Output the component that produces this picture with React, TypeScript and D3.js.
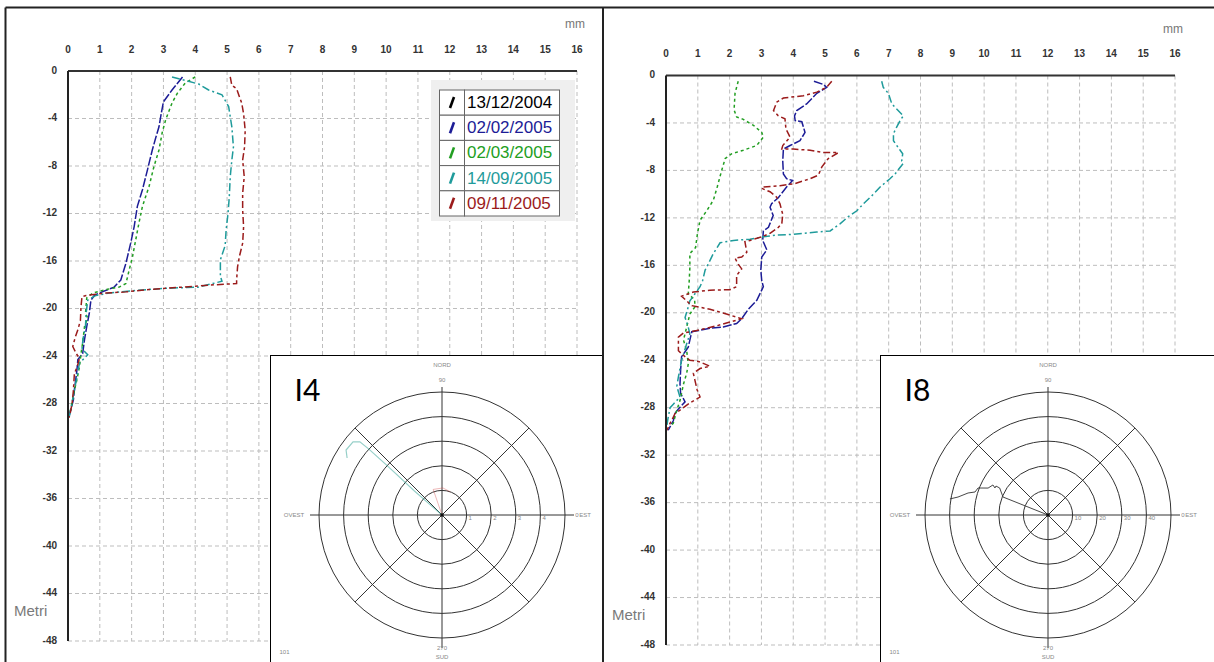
import React, { useEffect, useRef } from 'react';
import * as d3 from 'd3';

// ---- axis ticks / legend ----
const mmTicks = [0, 1, 2, 3, 4, 5, 6, 7, 8, 9, 10, 11, 12, 13, 14, 15, 16];
const depthTicks = [0, -4, -8, -12, -16, -20, -24, -28, -32, -36, -40, -44, -48];
const seriesNames = ['13/12/2004', '02/02/2005', '02/03/2005', '14/09/2005', '09/11/2005'];
const seriesColors = ['#000000', '#1c1c96', '#229e22', '#1f9b9b', '#9b1b1b'];
const seriesDash = ['none', '9,2', '3,3', '8,3,2,3', '7,3,3,3'];

// ---- I4 profiles: [mm, depth in metres] ----
const i4Ref = [[0, 0.5], [0, 29.2]];
const i4Blue = [[3.6, 0.5], [3.27, 1.6], [3.0, 2.6], [2.93, 3.6], [2.86, 4.7], [2.76, 5.6], [2.65, 6.65], [2.5, 8.3], [2.34, 10.0], [2.18, 11.4], [2.08, 13.1], [1.97, 14.5], [1.82, 16.2], [1.66, 17.6], [1.45, 18.2], [0.98, 18.7], [0.83, 18.9], [0.72, 19.3], [0.67, 20.4], [0.59, 21.5], [0.52, 22.6], [0.46, 23.8], [0.31, 24.3], [0.28, 25.2], [0.2, 26.9], [0.17, 27.7], [0.07, 28.7], [0.03, 29.1]];
const i4Green = [[4.0, 0.5], [3.69, 1.0], [3.43, 1.9], [3.27, 2.7], [3.07, 4.1], [2.96, 5.2], [2.86, 6.65], [2.7, 8.06], [2.55, 9.7], [2.34, 11.4], [2.23, 12.8], [2.13, 14.2], [2.03, 15.6], [1.92, 16.8], [1.82, 17.9], [1.61, 18.2], [1.19, 18.4], [0.78, 18.7], [0.59, 19.1], [0.55, 20.4], [0.62, 20.8], [0.52, 21.5], [0.46, 22.9], [0.41, 23.8], [0.36, 24.9], [0.28, 26], [0.2, 26.9], [0.1, 28.3], [0.05, 28.9]];
const i4Teal = [[3.27, 0.5], [3.7, 0.8], [4.11, 1.1], [4.42, 1.6], [4.84, 2.0], [5.05, 3.0], [5.15, 4.7], [5.2, 6.4], [5.15, 7.5], [5.1, 8.9], [5.07, 10.6], [5.03, 12.0], [4.97, 13.4], [4.94, 14.7], [4.79, 15.9], [4.79, 17.3], [4.84, 17.7], [4.11, 18.2], [3.07, 18.3], [2.03, 18.5], [1.3, 18.7], [0.88, 18.9], [0.62, 19.3], [0.57, 20.4], [0.55, 21.5], [0.47, 22.6], [0.44, 23.4], [0.62, 23.9], [0.36, 24.6], [0.3, 25.5], [0.2, 26.9], [0.1, 28.3], [0.04, 29.1]];
const i4Red = [[5.1, 0.5], [5.15, 1.2], [5.3, 1.5], [5.46, 2.7], [5.52, 3.6], [5.57, 5.0], [5.55, 6.4], [5.49, 7.5], [5.54, 8.9], [5.49, 10.3], [5.49, 11.7], [5.52, 13.1], [5.49, 14.5], [5.39, 15.6], [5.33, 16.5], [5.3, 17.6], [5.3, 17.9], [4.63, 18.0], [3.59, 18.2], [2.55, 18.4], [1.82, 18.6], [1.19, 18.7], [0.57, 18.9], [0.44, 19.0], [0.41, 19.8], [0.39, 21.0], [0.31, 21.8], [0.23, 22.4], [0.15, 23.2], [0.26, 23.8], [0.36, 24.2], [0.3, 24.8], [0.2, 25.5], [0.17, 26.9], [0.13, 28], [0.07, 28.8], [0.03, 29.2]];

// ---- I8 profiles ----
const i8Ref = [[0, 0.5], [0, 29.9]];
const i8Blue = [[4.65, 0.48], [4.95, 0.76], [5.05, 1.0], [4.74, 1.5], [4.42, 2.4], [4.11, 2.95], [4.04, 3.4], [4.06, 3.8], [4.27, 3.9], [4.37, 4.8], [4.21, 5.5], [3.9, 5.9], [3.69, 6.2], [3.67, 7.2], [3.69, 8.3], [3.79, 8.7], [3.98, 8.85], [3.79, 9.4], [3.53, 10.3], [3.32, 10.8], [3.27, 11.1], [3.37, 11.8], [3.22, 12.8], [3.06, 13.1], [3.04, 13.9], [3.17, 14.7], [3.01, 15.3], [2.98, 16.4], [3.01, 17.3], [3.06, 17.8], [2.85, 18.96], [2.59, 19.7], [2.38, 20.5], [2.22, 20.9], [1.8, 21.2], [1.38, 21.3], [1.02, 21.5], [0.81, 21.6], [0.75, 22.3], [0.7, 22.9], [0.49, 23.7], [0.46, 24.8], [0.44, 26.0], [0.46, 26.8], [0.6, 27.5], [0.39, 28.1], [0.28, 28.5], [0.23, 29.1], [0.07, 29.9]];
const i8Green = [[2.27, 0.48], [2.17, 1.5], [2.14, 2.9], [2.22, 3.5], [2.43, 3.7], [2.75, 4.2], [3.01, 4.8], [3.06, 5.2], [2.85, 5.9], [2.43, 6.3], [2.06, 6.6], [1.86, 7.0], [1.75, 8.0], [1.61, 9.4], [1.49, 10.5], [1.28, 11.4], [1.07, 12.2], [0.99, 13.3], [0.93, 14.5], [0.75, 15.0], [0.75, 16.2], [0.73, 17.3], [0.7, 18.4], [0.9, 18.9], [0.91, 19.5], [0.75, 20.1], [0.65, 21.2], [0.55, 22.3], [0.65, 23.2], [0.7, 24.3], [0.65, 25.1], [0.55, 26], [0.44, 27.4], [0.34, 28.2], [0.23, 29.3], [0.13, 29.6]];
const i8Teal = [[6.78, 0.48], [6.83, 1.0], [6.99, 1.5], [7.1, 2.4], [7.46, 3.4], [7.36, 3.8], [7.25, 4.35], [7.15, 4.9], [7.15, 5.5], [7.36, 6.3], [7.44, 6.6], [7.41, 7.2], [7.46, 7.4], [7.2, 8.3], [7.04, 8.7], [6.73, 9.4], [6.52, 10.0], [6.21, 10.8], [6.0, 11.4], [5.73, 11.9], [5.47, 12.5], [5.16, 13.1], [4.74, 13.2], [4.32, 13.3], [3.9, 13.4], [3.48, 13.45], [3.06, 13.6], [2.64, 13.8], [2.12, 13.9], [1.7, 14.1], [1.49, 15.0], [1.38, 15.6], [1.23, 16.4], [1.15, 17.3], [1.07, 17.8], [0.91, 18.4], [0.75, 19.0], [0.7, 19.5], [0.6, 20.4], [0.7, 21.2], [0.75, 21.8], [0.65, 22.6], [0.55, 23.5], [0.49, 24.0], [0.39, 25.4], [0.34, 26.2], [0.44, 27.1], [0.23, 27.7], [0.13, 28], [0.07, 28.8], [0.02, 29.6]];
const i8Red = [[5.21, 0.48], [5.05, 1.0], [4.74, 1.4], [4.32, 1.7], [3.69, 1.9], [3.48, 2.25], [3.38, 2.95], [3.53, 3.4], [3.74, 3.65], [3.77, 4.5], [3.9, 5.2], [3.67, 5.9], [3.64, 6.2], [4.0, 6.2], [4.53, 6.3], [4.95, 6.5], [5.42, 6.5], [5.1, 7.0], [4.9, 7.7], [4.79, 8.4], [4.53, 8.7], [4.06, 9.1], [3.58, 9.3], [3.06, 9.4], [3.0, 9.5], [3.27, 9.8], [3.48, 10.25], [3.58, 10.8], [3.67, 11.7], [3.64, 12.5], [3.53, 12.8], [3.27, 13.3], [3.01, 13.6], [2.64, 13.9], [2.48, 14.0], [2.54, 14.9], [2.38, 15.3], [2.17, 15.4], [2.27, 15.9], [2.38, 16.3], [2.22, 16.85], [2.22, 17.8], [2.01, 18.05], [1.38, 18.1], [0.86, 18.25], [0.49, 18.6], [0.81, 19.4], [1.38, 19.7], [1.9, 20.1], [2.38, 20.5], [1.59, 21.1], [0.96, 21.5], [0.55, 21.7], [0.39, 22.05], [0.39, 23.2], [0.6, 23.7], [0.75, 24.0], [1.02, 24.1], [1.38, 24.5], [1.07, 24.7], [0.86, 25.1], [0.91, 25.7], [0.98, 26.5], [1.07, 27.1], [0.75, 27.6], [0.49, 28.1], [0.28, 28.5], [0.23, 28.8], [0.13, 29.3], [0.03, 29.9]];

// ---- polar insets: [azimuth deg, displacement] ----
const i4RingLabels = ['1', '2', '3', '4'];
const i4PolarTeal = [[0, 0], [311, 1.5], [312, 3.0], [312, 4.0], [311.7, 4.47], [309.4, 4.68], [304.1, 4.71], [301, 4.5]];
const i4PolarRed = [[0, 0], [341, 1.1], [2, 1.1], [20, 1.0]];
const i8RingLabels = ['10', '20', '30', '40'];
const i8PolarLine = [[0, 0], [291.8, 19.7], [299.2, 22.5], [299.1, 24.2], [297, 24.2], [298.6, 25.5], [294.2, 26.7], [291.1, 30.5], [287.5, 31.1], [285.4, 33.7], [281.3, 37.3], [279.3, 40.4]];

const FONT = '"Liberation Sans", Arial, sans-serif';

const drawProfile = (svg, cfg, series) => {
    const x = d3.scaleLinear().domain([0, 16]).range([cfg.x0, cfg.x1]);
    const y = d3.scaleLinear().domain([0, -48]).range([cfg.y0, cfg.y1]);
    const g = svg.append('g');

    // grid
    g.selectAll('.vgrid').data(mmTicks.slice(1)).join('line')
        .attr('x1', d => x(d)).attr('x2', d => x(d))
        .attr('y1', cfg.y0).attr('y2', cfg.y1)
        .attr('stroke', '#bdbdbd').attr('stroke-dasharray', '4,3');
    g.selectAll('.hgrid').data(depthTicks.slice(1)).join('line')
        .attr('x1', cfg.x0).attr('x2', cfg.x1)
        .attr('y1', d => y(d)).attr('y2', d => y(d))
        .attr('stroke', '#bdbdbd').attr('stroke-dasharray', '4,3');

    // tick labels
    g.selectAll('.xt').data(mmTicks).join('text')
        .attr('x', d => x(d)).attr('y', cfg.y0 - 21)
        .attr('text-anchor', 'middle').attr('dominant-baseline', 'middle')
        .attr('font-family', FONT).attr('font-size', 10).attr('font-weight', 'bold')
        .attr('fill', '#333').text(d => d);
    g.selectAll('.yt').data(depthTicks).join('text')
        .attr('x', cfg.x0 - 11).attr('y', d => y(d))
        .attr('text-anchor', 'end').attr('dominant-baseline', 'middle')
        .attr('font-family', FONT).attr('font-size', 10).attr('font-weight', 'bold')
        .attr('fill', '#333').text(d => d);
    g.append('text').attr('x', cfg.x1 - 2).attr('y', cfg.y0 - 46)
        .attr('text-anchor', 'middle').attr('dominant-baseline', 'middle')
        .attr('font-family', FONT).attr('font-size', 12).attr('fill', '#777').text('mm');
    g.append('text').attr('x', cfg.x0 - 54).attr('y', cfg.y1 - 29)
        .attr('dominant-baseline', 'middle')
        .attr('font-family', FONT).attr('font-size', 15).attr('fill', '#7a7a7a').text('Metri');

    // curves
    const line = d3.line().x(d => x(d[0])).y(d => y(-d[1]));
    series.forEach((s, i) => {
        g.append('path').datum(s).attr('d', line)
            .attr('fill', 'none').attr('stroke', seriesColors[i])
            .attr('stroke-width', 1.5).attr('stroke-dasharray', seriesDash[i]);
    });

    // axes
    g.append('line').attr('x1', cfg.x0).attr('x2', cfg.x1).attr('y1', cfg.y0).attr('y2', cfg.y0)
        .attr('stroke', '#333').attr('stroke-width', 2);
    g.append('line').attr('x1', cfg.x0).attr('x2', cfg.x0).attr('y1', cfg.y0).attr('y2', cfg.y1)
        .attr('stroke', '#222').attr('stroke-width', 2);
};

const drawPolar = (svg, cfg) => {
    const g = svg.append('g');
    g.append('rect').attr('x', cfg.bx).attr('y', cfg.by).attr('width', cfg.bw).attr('height', 320)
        .attr('fill', '#fff').attr('stroke', '#000').attr('stroke-width', 1);
    const c = g.append('g').attr('transform', `translate(${cfg.cx},${cfg.cy})`);
    const r = d3.scaleLinear().domain([0, 5 * cfg.unit]).range([0, 123]);
    [1, 2, 3, 4, 5].forEach(k => {
        c.append('circle').attr('r', r(k * cfg.unit)).attr('fill', 'none').attr('stroke', '#333').attr('stroke-width', 1);
    });
    c.append('line').attr('x1', -132).attr('x2', 132).attr('stroke', '#333');
    c.append('line').attr('y1', -128).attr('y2', 133).attr('stroke', '#333');
    [45, 135, 225, 315].forEach(a => {
        const t = a * Math.PI / 180;
        c.append('line').attr('x2', 123 * Math.sin(t)).attr('y2', -123 * Math.cos(t)).attr('stroke', '#333');
    });
    const small = (txt, tx, ty, anchor = 'middle') => c.append('text')
        .attr('x', tx).attr('y', ty).attr('text-anchor', anchor).attr('dominant-baseline', 'middle')
        .attr('font-family', FONT).attr('font-size', 6).attr('fill', '#888').text(txt);
    small('NORD', 0, -150);
    small('90', 0, -135);
    small('OVEST', -148, 0);
    small('EST', 143, 0);
    small('0', 135, 0);
    small('270', 0, 133);
    small('SUD', 0, 142);
    cfg.ringLabels.forEach((t, i) => small(t, r((i + 1) * cfg.unit) + 2, 3, 'start'));
    small('101', cfg.bx - cfg.cx + 14, 137);

    const radial = d3.lineRadial().angle(d => d[0] * Math.PI / 180).radius(d => r(d[1]));
    cfg.traces.forEach(tr => {
        c.append('path').datum(tr.data).attr('d', radial)
            .attr('fill', 'none').attr('stroke', tr.color).attr('stroke-width', tr.w).attr('opacity', tr.op);
    });
    c.append('circle').attr('r', 1.8).attr('fill', '#111');

    g.append('text').attr('x', cfg.bx + 24).attr('y', cfg.by + 45)
        .attr('font-family', 'Lato, "Open Sans", sans-serif').attr('font-size', 30).attr('fill', '#000')
        .text(cfg.label);
};

const App = () => {
    const svgRef = useRef(null);

    useEffect(() => {
        document.body.style.margin = '0';
        const svg = d3.select(svgRef.current);
        svg.selectAll('*').remove();
        svg.append('rect').attr('width', 1214).attr('height', 662).attr('fill', '#fff');

        // left panel legend background
        drawProfile(svg, { x0: 68, x1: 577, y0: 71, y1: 641 }, [i4Ref, i4Blue, i4Green, i4Teal, i4Red]);
        drawProfile(svg, { x0: 666, x1: 1175, y0: 75.5, y1: 645 }, [i8Ref, i8Blue, i8Green, i8Teal, i8Red]);

        // legend
        const lg = svg.append('g');
        lg.append('rect').attr('x', 431).attr('y', 80).attr('width', 144).attr('height', 141).attr('fill', '#efefef');
        const rowH = 25.2;
        seriesNames.forEach((nm, i) => {
            const yy = 90 + i * rowH;
            lg.append('rect').attr('x', 439.5).attr('y', yy).attr('width', 25).attr('height', rowH)
                .attr('fill', '#fff').attr('stroke', '#666');
            lg.append('rect').attr('x', 464.5).attr('y', yy).attr('width', 95).attr('height', rowH)
                .attr('fill', '#fff').attr('stroke', '#666');
            lg.append('line').attr('x1', 450).attr('y1', yy + 18).attr('x2', 454).attr('y2', yy + 7)
                .attr('stroke', seriesColors[i]).attr('stroke-width', 2.6);
            lg.append('text').attr('x', 467).attr('y', yy + rowH / 2 + 1)
                .attr('dominant-baseline', 'middle').attr('font-family', FONT).attr('font-size', 17)
                .attr('fill', seriesColors[i]).text(nm);
        });

        drawPolar(svg, {
            bx: 270.5, by: 355.5, bw: 332.5, cx: 442, cy: 515, unit: 1, label: 'I4', ringLabels: i4RingLabels,
            traces: [
                { data: i4PolarTeal, color: '#3fa79a', w: 1.2, op: 0.55 },
                { data: i4PolarRed, color: '#c33', w: 1, op: 0.35 },
            ],
        });
        drawPolar(svg, {
            bx: 880.5, by: 355.5, bw: 340, cx: 1048, cy: 515, unit: 10, label: 'I8', ringLabels: i8RingLabels,
            traces: [{ data: i8PolarLine, color: '#333', w: 1, op: 0.9 }],
        });

        // frame
        svg.append('line').attr('x1', 5.5).attr('x2', 1214).attr('y1', 7.5).attr('y2', 7.5).attr('stroke', '#222').attr('stroke-width', 2);
        svg.append('line').attr('x1', 5.5).attr('x2', 5.5).attr('y1', 7.5).attr('y2', 662).attr('stroke', '#222').attr('stroke-width', 2);
        svg.append('line').attr('x1', 603).attr('x2', 603).attr('y1', 7.5).attr('y2', 662).attr('stroke', '#222').attr('stroke-width', 2);
    }, []);

    return <svg ref={svgRef} width={1214} height={662} style={{ display: 'block' }}></svg>;
};

export default App;
